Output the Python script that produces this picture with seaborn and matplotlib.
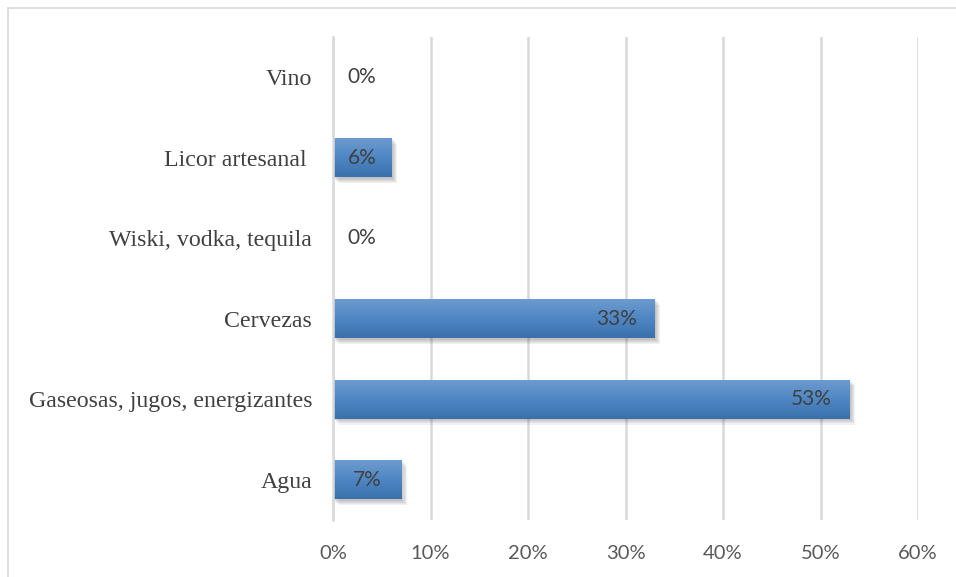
import numpy as np
import pandas as pd
import matplotlib
matplotlib.use("Agg")
import matplotlib.pyplot as plt
import matplotlib.patheffects as pe
from matplotlib.colors import LinearSegmentedColormap
import seaborn as sns

categories = ["Vino", "Licor artesanal ", "Wiski, vodka, tequila", "Cervezas",
              "Gaseosas, jugos, energizantes", "Agua"]
values = [0, 6, 0, 33, 53, 7]
xticks = [0, 10, 20, 30, 40, 50, 60]
xtick_labels = ["0%", "10%", "20%", "30%", "40%", "50%", "60%"]

df = pd.DataFrame({"cat": categories, "val": values})

sns.set_style("white")
fig = plt.figure(figsize=(9.56, 5.77), dpi=100)
ax = fig.add_axes([333/956, 1-520/577, (918-333)/956, (520-37)/577])

sns.barplot(data=df, y="cat", x="val", orient="h", ax=ax, color="#4f86c4",
            width=0.49, saturation=1, edgecolor="none")

ax.set_xlim(0, 60)
ax.set_ylim(5.5, -0.5)
ax.set_xticks(xticks)
ax.set_xticklabels(xtick_labels, fontsize=14.5, color="#595959",
                   family=["Lato", "DejaVu Sans"])
ax.tick_params(axis="x", length=0, pad=18)
ax.tick_params(axis="y", length=0, pad=15)
for lab in ax.get_yticklabels():
    lab.set_family(["Liberation Serif", "DejaVu Serif"])
    lab.set_fontsize(17.2)
    lab.set_color("#404040")
ax.set_xlabel("")
ax.set_ylabel("")
ax.xaxis.grid(True, color="#d9d9d9", linewidth=1.8)
ax.set_axisbelow(True)
for s in ["top", "right", "bottom"]:
    ax.spines[s].set_visible(False)
ax.spines["left"].set_color("#d9d9d9")
ax.spines["left"].set_linewidth(1.8)

cmap = LinearSegmentedColormap.from_list("g", ["#6d9ccf", "#4f87c4", "#3a71ad"])
grad = np.linspace(0, 1, 100).reshape(-1, 1)
shadow = [pe.SimplePatchShadow(offset=(o, -o), shadow_rgbFace="#404040", alpha=0.07)
          for o in (0.8, 1.6, 2.4, 3.2, 4.0)]
for p in ax.patches:
    w = p.get_width()
    if w <= 0:
        continue
    p.set_path_effects(shadow + [pe.Normal()])
    x0, y0 = p.get_x(), p.get_y()
    h = p.get_height()
    im = ax.imshow(grad, cmap=cmap, aspect="auto", extent=[x0, x0 + w, y0 + h, y0],
                   zorder=p.get_zorder() + 0.1, interpolation="bicubic")
    im.set_clip_path(p)

ax.set_xlim(0, 60)
ax.set_ylim(5.5, -0.5)

for i, v in enumerate(values):
    txt = f"{v}%"
    kw = dict(fontsize=15, color="#404040", family=["Lato", "DejaVu Sans"],
              va="center", textcoords="offset points", zorder=5)
    if v == 0:
        ax.annotate(txt, (v, i), xytext=(10, 0), ha="left", **kw)
    elif v >= 20:
        ax.annotate(txt, (v, i), xytext=(-13, 0), ha="right", **kw)
    else:
        ax.annotate(txt, (v / 2, i), xytext=(0, 0), ha="center", **kw)

# outer frame lines (top and left)
fig.add_artist(plt.Line2D([8/956, 1], [1-8/577, 1-8/577], color="#d9d9d9", lw=1.2,
                          transform=fig.transFigure))
fig.add_artist(plt.Line2D([8/956, 8/956], [0, 1-8/577], color="#d9d9d9", lw=1.2,
                          transform=fig.transFigure))

fig.savefig("out.png", dpi=100)
